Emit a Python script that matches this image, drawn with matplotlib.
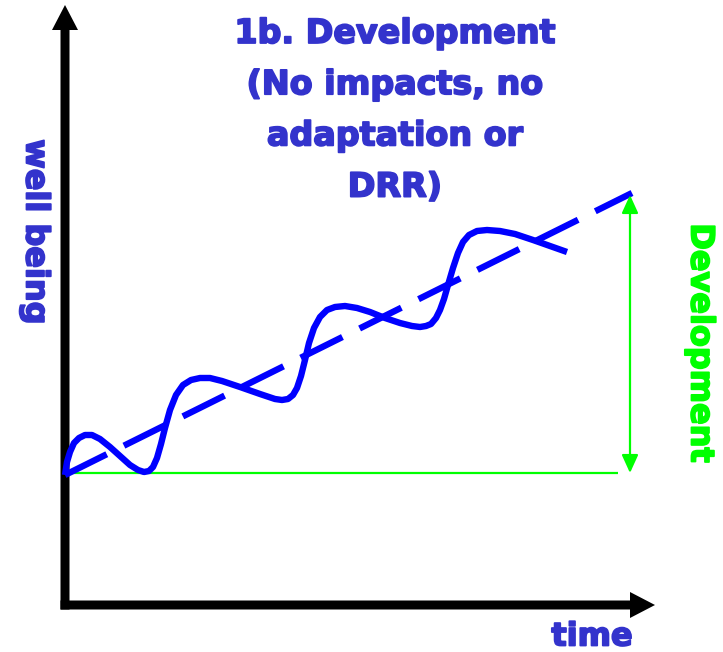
import matplotlib.pyplot as plt
import matplotlib.patheffects as pe

# Conceptual curve: time vs well being (units)
wave_time = [0, 2, 5, 9, 14, 20, 27, 35, 45, 55, 65, 73, 79, 84, 88, 92, 96, 100, 105, 111,
             118, 126, 135, 145, 157, 175, 195, 210, 217, 223, 228, 232, 236, 240, 244, 249,
             255, 262, 270, 280, 292, 305, 320, 335, 347, 355, 361, 366, 371, 375, 379, 383,
             388, 393, 398, 404, 412, 422, 435, 450, 468, 485, 502]
wave_wellbeing = [130, 143, 153, 162, 167, 170, 170, 166, 158, 149, 140, 135, 133, 134, 138,
                  147, 161, 177, 195, 210, 220, 225, 227, 227, 224, 218, 211, 206, 205, 206,
                  210, 217, 229, 245, 262, 277, 288, 295, 298, 299, 297, 293, 287, 282, 279,
                  278, 279, 281, 287, 295, 306, 320, 337, 352, 363, 370, 374, 375, 374, 371,
                  365, 359, 353]
trend_time = [0, 567]
trend_wellbeing = [130, 412]
baseline_time = [0, 553]
baseline_wellbeing = [132, 132]
dev_time = 565
dev_range = [132, 410]

title_lines = ["1b. Development", "(No impacts, no", "adaptation or", "DRR)"]

blue = '#0000FF'
text_blue = '#3333CC'
green = '#00FF00'

fig = plt.figure(figsize=(7.23, 6.52), dpi=100)
ax = fig.add_axes([0, 0, 1, 1])
ax.set_xlim(-65, 658)
ax.set_ylim(-47, 605)
ax.axis('off')

# axes arrows (filled polygons, no edge)
ax.arrow(0, -4.5, 0, 604.5, width=9, head_width=26, head_length=25,
         length_includes_head=True, color='black', lw=0)
ax.arrow(-4.5, 0, 594.5, 0, width=9, head_width=26, head_length=25,
         length_includes_head=True, color='black', lw=0)

# baseline and development arrow
ax.plot(baseline_time, baseline_wellbeing, color=green, lw=1.6, solid_capstyle='butt')
ax.annotate('', xy=(dev_time, dev_range[1]), xytext=(dev_time, dev_range[0]),
            arrowprops=dict(arrowstyle='<|-|>,head_length=11,head_width=5', mutation_scale=1,
                            lw=1.6, color=green, shrinkA=0, shrinkB=0))

# trend and wave
ax.plot(trend_time, trend_wellbeing, color=blue, lw=4.6, dashes=(7.3, 3.0),
        dash_capstyle='butt')
ax.plot(wave_time, wave_wellbeing, color=blue, lw=4.6, solid_capstyle='butt',
        solid_joinstyle='round')

# text
bold = [pe.withStroke(linewidth=1.3, foreground=text_blue)]
ax.text(330, 588, '\n'.join(title_lines), ha='center', va='top', fontsize=24,
        fontweight='bold', color=text_blue, linespacing=1.7, path_effects=bold)
ax.text(-30, 373, 'well being', rotation=-90, ha='center', va='center', fontsize=23,
        fontweight='bold', color=text_blue, path_effects=bold)
ax.text(635, 262, 'Development', rotation=-90, ha='center', va='center', fontsize=23,
        fontweight='bold', color=green,
        path_effects=[pe.withStroke(linewidth=1.3, foreground=green)])
ax.text(527, -32, 'time', ha='center', va='center', fontsize=23,
        fontweight='bold', color=text_blue, path_effects=bold)

fig.savefig('out.png', dpi=100)
